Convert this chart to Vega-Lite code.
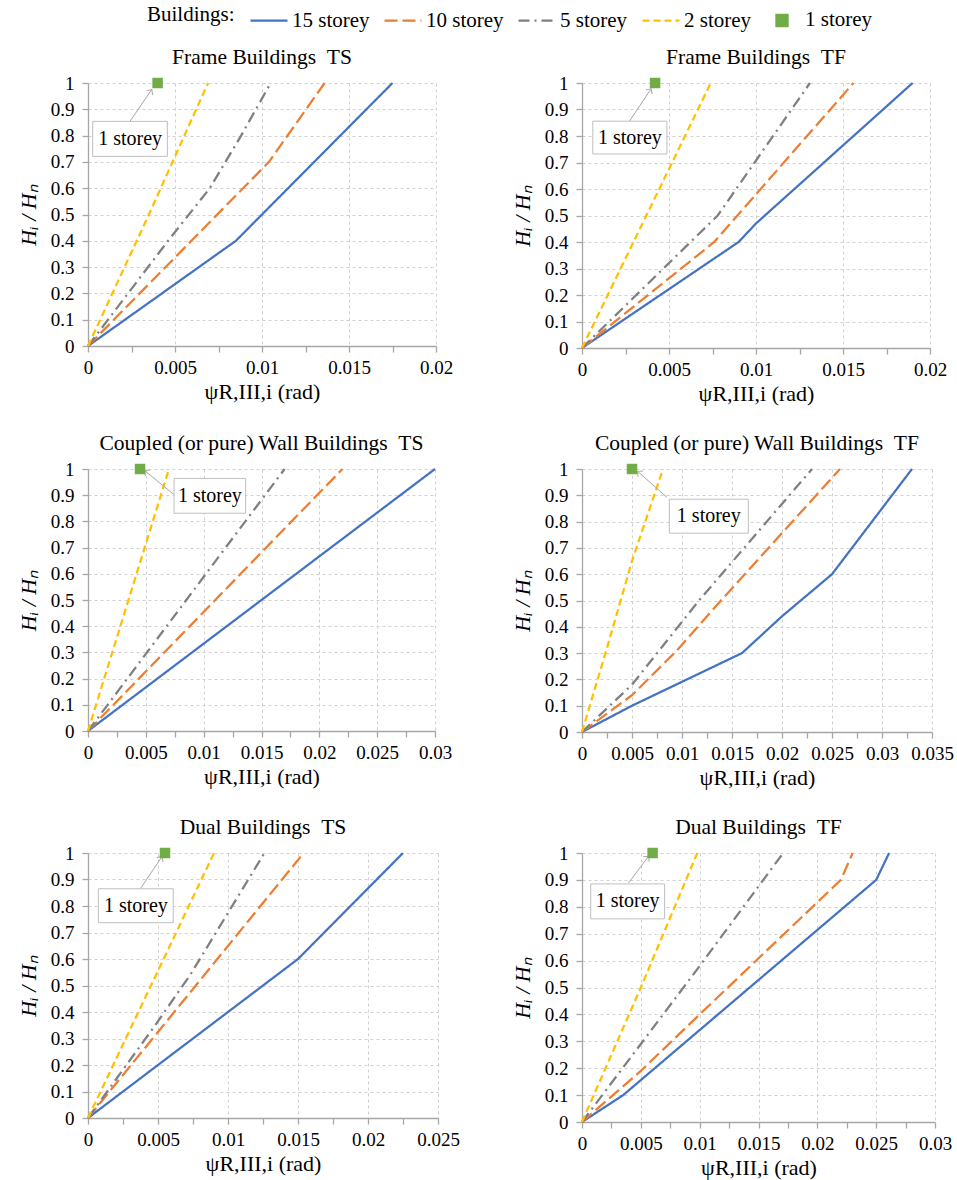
{
  "$schema": "https://vega.github.io/schema/vega-lite/v6.json",
  "background": "white",
  "padding": {"left": 17, "top": 0, "right": 5, "bottom": 5},
  "bounds": "flush",
  "columns": 2,
  "spacing": {"row": 121, "column": 144},
  "datasets": {
    "lines": [
      {"panel": "P1", "building": "15 storey", "x": 0, "y": 0},
      {"panel": "P1", "building": "15 storey", "x": 0.0085, "y": 0.4},
      {"panel": "P1", "building": "15 storey", "x": 0.01, "y": 0.5},
      {"panel": "P1", "building": "15 storey", "x": 0.0175, "y": 1},
      {"panel": "P1", "building": "10 storey", "x": 0, "y": 0},
      {"panel": "P1", "building": "10 storey", "x": 0.0104, "y": 0.7},
      {"panel": "P1", "building": "10 storey", "x": 0.0136, "y": 1},
      {"panel": "P1", "building": "5 storey", "x": 0, "y": 0},
      {"panel": "P1", "building": "5 storey", "x": 0.0023, "y": 0.2},
      {"panel": "P1", "building": "5 storey", "x": 0.0046, "y": 0.4},
      {"panel": "P1", "building": "5 storey", "x": 0.007, "y": 0.6},
      {"panel": "P1", "building": "5 storey", "x": 0.0088, "y": 0.8},
      {"panel": "P1", "building": "5 storey", "x": 0.0105, "y": 1},
      {"panel": "P1", "building": "2 storey", "x": 0, "y": 0},
      {"panel": "P1", "building": "2 storey", "x": 0.0035, "y": 0.5},
      {"panel": "P1", "building": "2 storey", "x": 0.0069, "y": 1},

      {"panel": "P2", "building": "15 storey", "x": 0, "y": 0},
      {"panel": "P2", "building": "15 storey", "x": 0.009, "y": 0.4},
      {"panel": "P2", "building": "15 storey", "x": 0.01, "y": 0.47},
      {"panel": "P2", "building": "15 storey", "x": 0.019, "y": 1},
      {"panel": "P2", "building": "10 storey", "x": 0, "y": 0},
      {"panel": "P2", "building": "10 storey", "x": 0.0076, "y": 0.4},
      {"panel": "P2", "building": "10 storey", "x": 0.0156, "y": 1},
      {"panel": "P2", "building": "5 storey", "x": 0, "y": 0},
      {"panel": "P2", "building": "5 storey", "x": 0.0078, "y": 0.5},
      {"panel": "P2", "building": "5 storey", "x": 0.0131, "y": 1},
      {"panel": "P2", "building": "2 storey", "x": 0, "y": 0},
      {"panel": "P2", "building": "2 storey", "x": 0.0037, "y": 0.5},
      {"panel": "P2", "building": "2 storey", "x": 0.0074, "y": 1},

      {"panel": "P3", "building": "15 storey", "x": 0, "y": 0},
      {"panel": "P3", "building": "15 storey", "x": 0.015, "y": 0.5},
      {"panel": "P3", "building": "15 storey", "x": 0.03, "y": 1},
      {"panel": "P3", "building": "10 storey", "x": 0, "y": 0},
      {"panel": "P3", "building": "10 storey", "x": 0.011, "y": 0.5},
      {"panel": "P3", "building": "10 storey", "x": 0.022, "y": 1},
      {"panel": "P3", "building": "5 storey", "x": 0, "y": 0},
      {"panel": "P3", "building": "5 storey", "x": 0.0085, "y": 0.5},
      {"panel": "P3", "building": "5 storey", "x": 0.017, "y": 1},
      {"panel": "P3", "building": "2 storey", "x": 0, "y": 0},
      {"panel": "P3", "building": "2 storey", "x": 0.0035, "y": 0.5},
      {"panel": "P3", "building": "2 storey", "x": 0.007, "y": 1},

      {"panel": "P4", "building": "15 storey", "x": 0, "y": 0},
      {"panel": "P4", "building": "15 storey", "x": 0.005, "y": 0.1},
      {"panel": "P4", "building": "15 storey", "x": 0.016, "y": 0.3},
      {"panel": "P4", "building": "15 storey", "x": 0.02, "y": 0.44},
      {"panel": "P4", "building": "15 storey", "x": 0.025, "y": 0.6},
      {"panel": "P4", "building": "15 storey", "x": 0.029, "y": 0.8},
      {"panel": "P4", "building": "15 storey", "x": 0.033, "y": 1},
      {"panel": "P4", "building": "10 storey", "x": 0, "y": 0},
      {"panel": "P4", "building": "10 storey", "x": 0.005, "y": 0.14},
      {"panel": "P4", "building": "10 storey", "x": 0.0095, "y": 0.31},
      {"panel": "P4", "building": "10 storey", "x": 0.0139, "y": 0.5},
      {"panel": "P4", "building": "10 storey", "x": 0.0258, "y": 1},
      {"panel": "P4", "building": "5 storey", "x": 0, "y": 0},
      {"panel": "P4", "building": "5 storey", "x": 0.005, "y": 0.18},
      {"panel": "P4", "building": "5 storey", "x": 0.0117, "y": 0.5},
      {"panel": "P4", "building": "5 storey", "x": 0.023, "y": 1},
      {"panel": "P4", "building": "2 storey", "x": 0, "y": 0},
      {"panel": "P4", "building": "2 storey", "x": 0.0025, "y": 0.32},
      {"panel": "P4", "building": "2 storey", "x": 0.005, "y": 0.65},
      {"panel": "P4", "building": "2 storey", "x": 0.0081, "y": 1},

      {"panel": "P5", "building": "15 storey", "x": 0, "y": 0},
      {"panel": "P5", "building": "15 storey", "x": 0.015, "y": 0.6},
      {"panel": "P5", "building": "15 storey", "x": 0.0225, "y": 1},
      {"panel": "P5", "building": "10 storey", "x": 0, "y": 0},
      {"panel": "P5", "building": "10 storey", "x": 0.0154, "y": 1},
      {"panel": "P5", "building": "5 storey", "x": 0, "y": 0},
      {"panel": "P5", "building": "5 storey", "x": 0.0048, "y": 0.35},
      {"panel": "P5", "building": "5 storey", "x": 0.0073, "y": 0.54},
      {"panel": "P5", "building": "5 storey", "x": 0.0126, "y": 1},
      {"panel": "P5", "building": "2 storey", "x": 0, "y": 0},
      {"panel": "P5", "building": "2 storey", "x": 0.0045, "y": 0.5},
      {"panel": "P5", "building": "2 storey", "x": 0.009, "y": 1},

      {"panel": "P6", "building": "15 storey", "x": 0, "y": 0},
      {"panel": "P6", "building": "15 storey", "x": 0.0035, "y": 0.1},
      {"panel": "P6", "building": "15 storey", "x": 0.025, "y": 0.9},
      {"panel": "P6", "building": "15 storey", "x": 0.0261, "y": 1},
      {"panel": "P6", "building": "10 storey", "x": 0, "y": 0},
      {"panel": "P6", "building": "10 storey", "x": 0.005, "y": 0.19},
      {"panel": "P6", "building": "10 storey", "x": 0.01, "y": 0.4},
      {"panel": "P6", "building": "10 storey", "x": 0.022, "y": 0.9},
      {"panel": "P6", "building": "10 storey", "x": 0.023, "y": 1},
      {"panel": "P6", "building": "5 storey", "x": 0, "y": 0},
      {"panel": "P6", "building": "5 storey", "x": 0.005, "y": 0.29},
      {"panel": "P6", "building": "5 storey", "x": 0.01, "y": 0.58},
      {"panel": "P6", "building": "5 storey", "x": 0.0171, "y": 1},
      {"panel": "P6", "building": "2 storey", "x": 0, "y": 0},
      {"panel": "P6", "building": "2 storey", "x": 0.005, "y": 0.5},
      {"panel": "P6", "building": "2 storey", "x": 0.0098, "y": 1}
    ],
    "one": [
      {"panel": "P1", "building": "1 storey", "x": 0.004, "y": 1},
      {"panel": "P2", "building": "1 storey", "x": 0.0042, "y": 1},
      {"panel": "P3", "building": "1 storey", "x": 0.0045, "y": 1},
      {"panel": "P4", "building": "1 storey", "x": 0.005, "y": 1},
      {"panel": "P5", "building": "1 storey", "x": 0.0055, "y": 1},
      {"panel": "P6", "building": "1 storey", "x": 0.006, "y": 1}
    ],
    "boxes": [
      {"panel": "P1", "x": 0.00027, "x2": 0.00456, "y": 0.854, "y2": 0.721},
      {"panel": "P2", "x": 0.00062, "x2": 0.00488, "y": 0.856, "y2": 0.732},
      {"panel": "P3", "x": 0.00744, "x2": 0.01363, "y": 0.964, "y2": 0.831},
      {"panel": "P4", "x": 0.00873, "x2": 0.01663, "y": 0.885, "y2": 0.756},
      {"panel": "P5", "x": 0.00074, "x2": 0.00609, "y": 0.865, "y2": 0.737},
      {"panel": "P6", "x": 0.00074, "x2": 0.00702, "y": 0.885, "y2": 0.755}
    ],
    "labels": [
      {"panel": "P1", "label": "1 storey", "x": 0.00242, "y": 0.787},
      {"panel": "P2", "label": "1 storey", "x": 0.00275, "y": 0.794},
      {"panel": "P3", "label": "1 storey", "x": 0.01054, "y": 0.897},
      {"panel": "P4", "label": "1 storey", "x": 0.01268, "y": 0.82},
      {"panel": "P5", "label": "1 storey", "x": 0.00342, "y": 0.801},
      {"panel": "P6", "label": "1 storey", "x": 0.00388, "y": 0.82}
    ],
    "arrows": [
      {"panel": "P1", "x": 0.00366, "y": 0.975, "x2": 0.00241, "y2": 0.854},
      {"panel": "P2", "x": 0.00397, "y": 0.978, "x2": 0.00273, "y2": 0.856},
      {"panel": "P3", "x": 0.0049, "y": 0.994, "x2": 0.00744, "y2": 0.902},
      {"panel": "P4", "x": 0.00556, "y": 0.991, "x2": 0.0085, "y2": 0.892},
      {"panel": "P5", "x": 0.00529, "y": 0.987, "x2": 0.00374, "y2": 0.865},
      {"panel": "P6", "x": 0.00566, "y": 0.988, "x2": 0.00396, "y2": 0.889}
    ]
  },
  "concat": [
    {
      "width": 348, "height": 263,
      "title": "Frame Buildings \u00a0TS",
      "encoding": {
        "x": {"field": "x", "type": "quantitative", "title": "ψR,III,i (rad)",
          "scale": {"domain": [0, 0.02], "nice": false},
          "axis": {"values": [0, 0.0025, 0.005, 0.0075, 0.01, 0.0125, 0.015, 0.0175, 0.02],
            "labelExpr": "round(datum.value*400) % 2 == 1 ? '' : datum.label",
            "gridOpacity": {"condition": {"test": "round(datum.value*400) % 2 == 1", "value": 0}, "value": 1}}},
        "y": {"field": "y", "type": "quantitative", "title": "Hᵢ / Hₙ",
          "scale": {"domain": [0, 1], "nice": false},
          "axis": {"values": [0, 0.1, 0.2, 0.3, 0.4, 0.5, 0.6, 0.7, 0.8, 0.9, 1]}}
      },
      "layer": [
        {"data": {"name": "lines"}, "transform": [{"filter": "datum.panel == 'P1'"}],
          "mark": {"type": "line", "strokeWidth": 2.25},
          "encoding": {
            "color": {"field": "building", "type": "nominal", "scale": {"domain": ["15 storey", "10 storey", "5 storey", "2 storey", "1 storey"], "range": ["#4472C4", "#ED7D31", "#7F7F7F", "#FFC000", "#70AD47"]}, "legend": {"title": "Buildings:", "orient": "none", "legendX": 59, "legendY": -83, "direction": "horizontal", "titleOrient": "left"}},
            "strokeDash": {"field": "building", "type": "nominal", "scale": {"domain": ["15 storey", "10 storey", "5 storey", "2 storey", "1 storey"], "range": [[1, 0], [13, 5], [11, 5, 2, 5], [7, 4], [1, 0]]}, "legend": {"title": "Buildings:", "orient": "none", "legendX": 59, "legendY": -83, "direction": "horizontal", "titleOrient": "left"}}
          }},
        {"data": {"name": "arrows"}, "transform": [{"filter": "datum.panel == 'P1'"}],
          "mark": {"type": "rule", "color": "#A6A6A6", "strokeWidth": 1},
          "encoding": {"x2": {"field": "x2"}, "y2": {"field": "y2"}}},
        {"data": {"name": "arrows"}, "transform": [{"filter": "datum.panel == 'P1'"}],
          "mark": {"type": "point", "shape": "M-1,1L0,0L1,1", "size": 60, "angle": 34, "color": "#A6A6A6", "filled": false, "strokeWidth": 1, "opacity": 1},
          "encoding": {}},
        {"data": {"name": "boxes"}, "transform": [{"filter": "datum.panel == 'P1'"}],
          "mark": {"type": "rect", "fill": "white", "stroke": "#BFBFBF", "strokeWidth": 1},
          "encoding": {"x2": {"field": "x2"}, "y2": {"field": "y2"}}},
        {"data": {"name": "labels"}, "transform": [{"filter": "datum.panel == 'P1'"}],
          "mark": {"type": "text", "font": "Liberation Serif, Times New Roman, serif", "fontSize": 20, "color": "black"},
          "encoding": {"text": {"field": "label"}}},
        {"data": {"name": "one"}, "transform": [{"filter": "datum.panel == 'P1'"}],
          "mark": {"type": "point", "filled": true, "size": 1225, "opacity": 1},
          "encoding": {
            "color": {"field": "building", "type": "nominal", "scale": {"domain": ["15 storey", "10 storey", "5 storey", "2 storey", "1 storey"], "range": ["#4472C4", "#ED7D31", "#7F7F7F", "#FFC000", "#70AD47"]}, "legend": {"title": "Buildings:", "orient": "none", "legendX": 59, "legendY": -83, "direction": "horizontal", "titleOrient": "left"}},
            "strokeDash": {"field": "building", "type": "nominal", "scale": {"domain": ["15 storey", "10 storey", "5 storey", "2 storey", "1 storey"], "range": [[1, 0], [13, 5], [11, 5, 2, 5], [7, 4], [1, 0]]}, "legend": {"title": "Buildings:", "orient": "none", "legendX": 59, "legendY": -83, "direction": "horizontal", "titleOrient": "left"}},
            "shape": {"field": "building", "type": "nominal", "scale": {"domain": ["15 storey", "10 storey", "5 storey", "2 storey", "1 storey"], "range": ["stroke", "stroke", "stroke", "stroke", "M-0.3,-0.3H0.3V0.3H-0.3Z"]}, "legend": {"title": "Buildings:", "orient": "none", "legendX": 59, "legendY": -83, "direction": "horizontal", "titleOrient": "left"}}
          }}
      ]
    },
    {
      "width": 348, "height": 265,
      "title": "Frame Buildings \u00a0TF",
      "encoding": {
        "x": {"field": "x", "type": "quantitative", "title": "ψR,III,i (rad)",
          "scale": {"domain": [0, 0.02], "nice": false},
          "axis": {"values": [0, 0.0025, 0.005, 0.0075, 0.01, 0.0125, 0.015, 0.0175, 0.02],
            "labelExpr": "round(datum.value*400) % 2 == 1 ? '' : datum.label",
            "gridOpacity": {"condition": {"test": "round(datum.value*400) % 2 == 1", "value": 0}, "value": 1}}},
        "y": {"field": "y", "type": "quantitative", "title": "Hᵢ / Hₙ",
          "scale": {"domain": [0, 1], "nice": false},
          "axis": {"values": [0, 0.1, 0.2, 0.3, 0.4, 0.5, 0.6, 0.7, 0.8, 0.9, 1]}}
      },
      "layer": [
        {"data": {"name": "lines"}, "transform": [{"filter": "datum.panel == 'P2'"}],
          "mark": {"type": "line", "strokeWidth": 2.25},
          "encoding": {
            "color": {"field": "building", "type": "nominal", "scale": {"domain": ["15 storey", "10 storey", "5 storey", "2 storey", "1 storey"], "range": ["#4472C4", "#ED7D31", "#7F7F7F", "#FFC000", "#70AD47"]}, "legend": {"title": "Buildings:", "orient": "none", "legendX": 59, "legendY": -83, "direction": "horizontal", "titleOrient": "left"}},
            "strokeDash": {"field": "building", "type": "nominal", "scale": {"domain": ["15 storey", "10 storey", "5 storey", "2 storey", "1 storey"], "range": [[1, 0], [13, 5], [11, 5, 2, 5], [7, 4], [1, 0]]}, "legend": {"title": "Buildings:", "orient": "none", "legendX": 59, "legendY": -83, "direction": "horizontal", "titleOrient": "left"}}
          }},
        {"data": {"name": "arrows"}, "transform": [{"filter": "datum.panel == 'P2'"}],
          "mark": {"type": "rule", "color": "#A6A6A6", "strokeWidth": 1},
          "encoding": {"x2": {"field": "x2"}, "y2": {"field": "y2"}}},
        {"data": {"name": "arrows"}, "transform": [{"filter": "datum.panel == 'P2'"}],
          "mark": {"type": "point", "shape": "M-1,1L0,0L1,1", "size": 60, "angle": 34, "color": "#A6A6A6", "filled": false, "strokeWidth": 1, "opacity": 1},
          "encoding": {}},
        {"data": {"name": "boxes"}, "transform": [{"filter": "datum.panel == 'P2'"}],
          "mark": {"type": "rect", "fill": "white", "stroke": "#BFBFBF", "strokeWidth": 1},
          "encoding": {"x2": {"field": "x2"}, "y2": {"field": "y2"}}},
        {"data": {"name": "labels"}, "transform": [{"filter": "datum.panel == 'P2'"}],
          "mark": {"type": "text", "font": "Liberation Serif, Times New Roman, serif", "fontSize": 20, "color": "black"},
          "encoding": {"text": {"field": "label"}}},
        {"data": {"name": "one"}, "transform": [{"filter": "datum.panel == 'P2'"}],
          "mark": {"type": "point", "filled": true, "size": 1225, "opacity": 1},
          "encoding": {
            "color": {"field": "building", "type": "nominal", "scale": {"domain": ["15 storey", "10 storey", "5 storey", "2 storey", "1 storey"], "range": ["#4472C4", "#ED7D31", "#7F7F7F", "#FFC000", "#70AD47"]}, "legend": {"title": "Buildings:", "orient": "none", "legendX": 59, "legendY": -83, "direction": "horizontal", "titleOrient": "left"}},
            "strokeDash": {"field": "building", "type": "nominal", "scale": {"domain": ["15 storey", "10 storey", "5 storey", "2 storey", "1 storey"], "range": [[1, 0], [13, 5], [11, 5, 2, 5], [7, 4], [1, 0]]}, "legend": {"title": "Buildings:", "orient": "none", "legendX": 59, "legendY": -83, "direction": "horizontal", "titleOrient": "left"}},
            "shape": {"field": "building", "type": "nominal", "scale": {"domain": ["15 storey", "10 storey", "5 storey", "2 storey", "1 storey"], "range": ["stroke", "stroke", "stroke", "stroke", "M-0.3,-0.3H0.3V0.3H-0.3Z"]}, "legend": {"title": "Buildings:", "orient": "none", "legendX": 59, "legendY": -83, "direction": "horizontal", "titleOrient": "left"}}
          }}
      ]
    },
    {
      "width": 347, "height": 262,
      "title": "Coupled (or pure) Wall Buildings \u00a0TS",
      "encoding": {
        "x": {"field": "x", "type": "quantitative", "title": "ψR,III,i (rad)",
          "scale": {"domain": [0, 0.03], "nice": false},
          "axis": {"values": [0, 0.0025, 0.005, 0.0075, 0.01, 0.0125, 0.015, 0.0175, 0.02, 0.0225, 0.025, 0.0275, 0.03],
            "labelExpr": "round(datum.value*400) % 2 == 1 ? '' : datum.label",
            "gridOpacity": {"condition": {"test": "round(datum.value*400) % 2 == 1", "value": 0}, "value": 1}}},
        "y": {"field": "y", "type": "quantitative", "title": "Hᵢ / Hₙ",
          "scale": {"domain": [0, 1], "nice": false},
          "axis": {"values": [0, 0.1, 0.2, 0.3, 0.4, 0.5, 0.6, 0.7, 0.8, 0.9, 1]}}
      },
      "layer": [
        {"data": {"name": "lines"}, "transform": [{"filter": "datum.panel == 'P3'"}],
          "mark": {"type": "line", "strokeWidth": 2.25},
          "encoding": {
            "color": {"field": "building", "type": "nominal", "scale": {"domain": ["15 storey", "10 storey", "5 storey", "2 storey", "1 storey"], "range": ["#4472C4", "#ED7D31", "#7F7F7F", "#FFC000", "#70AD47"]}, "legend": {"title": "Buildings:", "orient": "none", "legendX": 59, "legendY": -83, "direction": "horizontal", "titleOrient": "left"}},
            "strokeDash": {"field": "building", "type": "nominal", "scale": {"domain": ["15 storey", "10 storey", "5 storey", "2 storey", "1 storey"], "range": [[1, 0], [13, 5], [11, 5, 2, 5], [7, 4], [1, 0]]}, "legend": {"title": "Buildings:", "orient": "none", "legendX": 59, "legendY": -83, "direction": "horizontal", "titleOrient": "left"}}
          }},
        {"data": {"name": "arrows"}, "transform": [{"filter": "datum.panel == 'P3'"}],
          "mark": {"type": "rule", "color": "#A6A6A6", "strokeWidth": 1},
          "encoding": {"x2": {"field": "x2"}, "y2": {"field": "y2"}}},
        {"data": {"name": "arrows"}, "transform": [{"filter": "datum.panel == 'P3'"}],
          "mark": {"type": "point", "shape": "M-1,1L0,0L1,1", "size": 60, "angle": -51, "color": "#A6A6A6", "filled": false, "strokeWidth": 1, "opacity": 1},
          "encoding": {}},
        {"data": {"name": "boxes"}, "transform": [{"filter": "datum.panel == 'P3'"}],
          "mark": {"type": "rect", "fill": "white", "stroke": "#BFBFBF", "strokeWidth": 1},
          "encoding": {"x2": {"field": "x2"}, "y2": {"field": "y2"}}},
        {"data": {"name": "labels"}, "transform": [{"filter": "datum.panel == 'P3'"}],
          "mark": {"type": "text", "font": "Liberation Serif, Times New Roman, serif", "fontSize": 20, "color": "black"},
          "encoding": {"text": {"field": "label"}}},
        {"data": {"name": "one"}, "transform": [{"filter": "datum.panel == 'P3'"}],
          "mark": {"type": "point", "filled": true, "size": 1225, "opacity": 1},
          "encoding": {
            "color": {"field": "building", "type": "nominal", "scale": {"domain": ["15 storey", "10 storey", "5 storey", "2 storey", "1 storey"], "range": ["#4472C4", "#ED7D31", "#7F7F7F", "#FFC000", "#70AD47"]}, "legend": {"title": "Buildings:", "orient": "none", "legendX": 59, "legendY": -83, "direction": "horizontal", "titleOrient": "left"}},
            "strokeDash": {"field": "building", "type": "nominal", "scale": {"domain": ["15 storey", "10 storey", "5 storey", "2 storey", "1 storey"], "range": [[1, 0], [13, 5], [11, 5, 2, 5], [7, 4], [1, 0]]}, "legend": {"title": "Buildings:", "orient": "none", "legendX": 59, "legendY": -83, "direction": "horizontal", "titleOrient": "left"}},
            "shape": {"field": "building", "type": "nominal", "scale": {"domain": ["15 storey", "10 storey", "5 storey", "2 storey", "1 storey"], "range": ["stroke", "stroke", "stroke", "stroke", "M-0.3,-0.3H0.3V0.3H-0.3Z"]}, "legend": {"title": "Buildings:", "orient": "none", "legendX": 59, "legendY": -83, "direction": "horizontal", "titleOrient": "left"}}
          }}
      ]
    },
    {
      "width": 350, "height": 263,
      "title": "Coupled (or pure) Wall Buildings \u00a0TF",
      "encoding": {
        "x": {"field": "x", "type": "quantitative", "title": "ψR,III,i (rad)",
          "scale": {"domain": [0, 0.035], "nice": false},
          "axis": {"values": [0, 0.0025, 0.005, 0.0075, 0.01, 0.0125, 0.015, 0.0175, 0.02, 0.0225, 0.025, 0.0275, 0.03, 0.0325, 0.035],
            "labelExpr": "round(datum.value*400) % 2 == 1 ? '' : datum.label",
            "gridOpacity": {"condition": {"test": "round(datum.value*400) % 2 == 1", "value": 0}, "value": 1}}},
        "y": {"field": "y", "type": "quantitative", "title": "Hᵢ / Hₙ",
          "scale": {"domain": [0, 1], "nice": false},
          "axis": {"values": [0, 0.1, 0.2, 0.3, 0.4, 0.5, 0.6, 0.7, 0.8, 0.9, 1]}}
      },
      "layer": [
        {"data": {"name": "lines"}, "transform": [{"filter": "datum.panel == 'P4'"}],
          "mark": {"type": "line", "strokeWidth": 2.25},
          "encoding": {
            "color": {"field": "building", "type": "nominal", "scale": {"domain": ["15 storey", "10 storey", "5 storey", "2 storey", "1 storey"], "range": ["#4472C4", "#ED7D31", "#7F7F7F", "#FFC000", "#70AD47"]}, "legend": {"title": "Buildings:", "orient": "none", "legendX": 59, "legendY": -83, "direction": "horizontal", "titleOrient": "left"}},
            "strokeDash": {"field": "building", "type": "nominal", "scale": {"domain": ["15 storey", "10 storey", "5 storey", "2 storey", "1 storey"], "range": [[1, 0], [13, 5], [11, 5, 2, 5], [7, 4], [1, 0]]}, "legend": {"title": "Buildings:", "orient": "none", "legendX": 59, "legendY": -83, "direction": "horizontal", "titleOrient": "left"}}
          }},
        {"data": {"name": "arrows"}, "transform": [{"filter": "datum.panel == 'P4'"}],
          "mark": {"type": "rule", "color": "#A6A6A6", "strokeWidth": 1},
          "encoding": {"x2": {"field": "x2"}, "y2": {"field": "y2"}}},
        {"data": {"name": "arrows"}, "transform": [{"filter": "datum.panel == 'P4'"}],
          "mark": {"type": "point", "shape": "M-1,1L0,0L1,1", "size": 60, "angle": -49, "color": "#A6A6A6", "filled": false, "strokeWidth": 1, "opacity": 1},
          "encoding": {}},
        {"data": {"name": "boxes"}, "transform": [{"filter": "datum.panel == 'P4'"}],
          "mark": {"type": "rect", "fill": "white", "stroke": "#BFBFBF", "strokeWidth": 1},
          "encoding": {"x2": {"field": "x2"}, "y2": {"field": "y2"}}},
        {"data": {"name": "labels"}, "transform": [{"filter": "datum.panel == 'P4'"}],
          "mark": {"type": "text", "font": "Liberation Serif, Times New Roman, serif", "fontSize": 20, "color": "black"},
          "encoding": {"text": {"field": "label"}}},
        {"data": {"name": "one"}, "transform": [{"filter": "datum.panel == 'P4'"}],
          "mark": {"type": "point", "filled": true, "size": 1225, "opacity": 1},
          "encoding": {
            "color": {"field": "building", "type": "nominal", "scale": {"domain": ["15 storey", "10 storey", "5 storey", "2 storey", "1 storey"], "range": ["#4472C4", "#ED7D31", "#7F7F7F", "#FFC000", "#70AD47"]}, "legend": {"title": "Buildings:", "orient": "none", "legendX": 59, "legendY": -83, "direction": "horizontal", "titleOrient": "left"}},
            "strokeDash": {"field": "building", "type": "nominal", "scale": {"domain": ["15 storey", "10 storey", "5 storey", "2 storey", "1 storey"], "range": [[1, 0], [13, 5], [11, 5, 2, 5], [7, 4], [1, 0]]}, "legend": {"title": "Buildings:", "orient": "none", "legendX": 59, "legendY": -83, "direction": "horizontal", "titleOrient": "left"}},
            "shape": {"field": "building", "type": "nominal", "scale": {"domain": ["15 storey", "10 storey", "5 storey", "2 storey", "1 storey"], "range": ["stroke", "stroke", "stroke", "stroke", "M-0.3,-0.3H0.3V0.3H-0.3Z"]}, "legend": {"title": "Buildings:", "orient": "none", "legendX": 59, "legendY": -83, "direction": "horizontal", "titleOrient": "left"}}
          }}
      ]
    },
    {
      "width": 350, "height": 265,
      "title": "Dual Buildings \u00a0TS",
      "encoding": {
        "x": {"field": "x", "type": "quantitative", "title": "ψR,III,i (rad)",
          "scale": {"domain": [0, 0.025], "nice": false},
          "axis": {"values": [0, 0.0025, 0.005, 0.0075, 0.01, 0.0125, 0.015, 0.0175, 0.02, 0.0225, 0.025],
            "labelExpr": "round(datum.value*400) % 2 == 1 ? '' : datum.label",
            "gridOpacity": {"condition": {"test": "round(datum.value*400) % 2 == 1", "value": 0}, "value": 1}}},
        "y": {"field": "y", "type": "quantitative", "title": "Hᵢ / Hₙ",
          "scale": {"domain": [0, 1], "nice": false},
          "axis": {"values": [0, 0.1, 0.2, 0.3, 0.4, 0.5, 0.6, 0.7, 0.8, 0.9, 1]}}
      },
      "layer": [
        {"data": {"name": "lines"}, "transform": [{"filter": "datum.panel == 'P5'"}],
          "mark": {"type": "line", "strokeWidth": 2.25},
          "encoding": {
            "color": {"field": "building", "type": "nominal", "scale": {"domain": ["15 storey", "10 storey", "5 storey", "2 storey", "1 storey"], "range": ["#4472C4", "#ED7D31", "#7F7F7F", "#FFC000", "#70AD47"]}, "legend": {"title": "Buildings:", "orient": "none", "legendX": 59, "legendY": -83, "direction": "horizontal", "titleOrient": "left"}},
            "strokeDash": {"field": "building", "type": "nominal", "scale": {"domain": ["15 storey", "10 storey", "5 storey", "2 storey", "1 storey"], "range": [[1, 0], [13, 5], [11, 5, 2, 5], [7, 4], [1, 0]]}, "legend": {"title": "Buildings:", "orient": "none", "legendX": 59, "legendY": -83, "direction": "horizontal", "titleOrient": "left"}}
          }},
        {"data": {"name": "arrows"}, "transform": [{"filter": "datum.panel == 'P5'"}],
          "mark": {"type": "rule", "color": "#A6A6A6", "strokeWidth": 1},
          "encoding": {"x2": {"field": "x2"}, "y2": {"field": "y2"}}},
        {"data": {"name": "arrows"}, "transform": [{"filter": "datum.panel == 'P5'"}],
          "mark": {"type": "point", "shape": "M-1,1L0,0L1,1", "size": 60, "angle": 34, "color": "#A6A6A6", "filled": false, "strokeWidth": 1, "opacity": 1},
          "encoding": {}},
        {"data": {"name": "boxes"}, "transform": [{"filter": "datum.panel == 'P5'"}],
          "mark": {"type": "rect", "fill": "white", "stroke": "#BFBFBF", "strokeWidth": 1},
          "encoding": {"x2": {"field": "x2"}, "y2": {"field": "y2"}}},
        {"data": {"name": "labels"}, "transform": [{"filter": "datum.panel == 'P5'"}],
          "mark": {"type": "text", "font": "Liberation Serif, Times New Roman, serif", "fontSize": 20, "color": "black"},
          "encoding": {"text": {"field": "label"}}},
        {"data": {"name": "one"}, "transform": [{"filter": "datum.panel == 'P5'"}],
          "mark": {"type": "point", "filled": true, "size": 1225, "opacity": 1},
          "encoding": {
            "color": {"field": "building", "type": "nominal", "scale": {"domain": ["15 storey", "10 storey", "5 storey", "2 storey", "1 storey"], "range": ["#4472C4", "#ED7D31", "#7F7F7F", "#FFC000", "#70AD47"]}, "legend": {"title": "Buildings:", "orient": "none", "legendX": 59, "legendY": -83, "direction": "horizontal", "titleOrient": "left"}},
            "strokeDash": {"field": "building", "type": "nominal", "scale": {"domain": ["15 storey", "10 storey", "5 storey", "2 storey", "1 storey"], "range": [[1, 0], [13, 5], [11, 5, 2, 5], [7, 4], [1, 0]]}, "legend": {"title": "Buildings:", "orient": "none", "legendX": 59, "legendY": -83, "direction": "horizontal", "titleOrient": "left"}},
            "shape": {"field": "building", "type": "nominal", "scale": {"domain": ["15 storey", "10 storey", "5 storey", "2 storey", "1 storey"], "range": ["stroke", "stroke", "stroke", "stroke", "M-0.3,-0.3H0.3V0.3H-0.3Z"]}, "legend": {"title": "Buildings:", "orient": "none", "legendX": 59, "legendY": -83, "direction": "horizontal", "titleOrient": "left"}}
          }}
      ]
    },
    {
      "width": 353, "height": 269,
      "title": "Dual Buildings \u00a0TF",
      "encoding": {
        "x": {"field": "x", "type": "quantitative", "title": "ψR,III,i (rad)",
          "scale": {"domain": [0, 0.03], "nice": false},
          "axis": {"values": [0, 0.0025, 0.005, 0.0075, 0.01, 0.0125, 0.015, 0.0175, 0.02, 0.0225, 0.025, 0.0275, 0.03],
            "labelExpr": "round(datum.value*400) % 2 == 1 ? '' : datum.label",
            "gridOpacity": {"condition": {"test": "round(datum.value*400) % 2 == 1", "value": 0}, "value": 1}}},
        "y": {"field": "y", "type": "quantitative", "title": "Hᵢ / Hₙ",
          "scale": {"domain": [0, 1], "nice": false},
          "axis": {"values": [0, 0.1, 0.2, 0.3, 0.4, 0.5, 0.6, 0.7, 0.8, 0.9, 1]}}
      },
      "layer": [
        {"data": {"name": "lines"}, "transform": [{"filter": "datum.panel == 'P6'"}],
          "mark": {"type": "line", "strokeWidth": 2.25},
          "encoding": {
            "color": {"field": "building", "type": "nominal", "scale": {"domain": ["15 storey", "10 storey", "5 storey", "2 storey", "1 storey"], "range": ["#4472C4", "#ED7D31", "#7F7F7F", "#FFC000", "#70AD47"]}, "legend": {"title": "Buildings:", "orient": "none", "legendX": 59, "legendY": -83, "direction": "horizontal", "titleOrient": "left"}},
            "strokeDash": {"field": "building", "type": "nominal", "scale": {"domain": ["15 storey", "10 storey", "5 storey", "2 storey", "1 storey"], "range": [[1, 0], [13, 5], [11, 5, 2, 5], [7, 4], [1, 0]]}, "legend": {"title": "Buildings:", "orient": "none", "legendX": 59, "legendY": -83, "direction": "horizontal", "titleOrient": "left"}}
          }},
        {"data": {"name": "arrows"}, "transform": [{"filter": "datum.panel == 'P6'"}],
          "mark": {"type": "rule", "color": "#A6A6A6", "strokeWidth": 1},
          "encoding": {"x2": {"field": "x2"}, "y2": {"field": "y2"}}},
        {"data": {"name": "arrows"}, "transform": [{"filter": "datum.panel == 'P6'"}],
          "mark": {"type": "point", "shape": "M-1,1L0,0L1,1", "size": 60, "angle": 39, "color": "#A6A6A6", "filled": false, "strokeWidth": 1, "opacity": 1},
          "encoding": {}},
        {"data": {"name": "boxes"}, "transform": [{"filter": "datum.panel == 'P6'"}],
          "mark": {"type": "rect", "fill": "white", "stroke": "#BFBFBF", "strokeWidth": 1},
          "encoding": {"x2": {"field": "x2"}, "y2": {"field": "y2"}}},
        {"data": {"name": "labels"}, "transform": [{"filter": "datum.panel == 'P6'"}],
          "mark": {"type": "text", "font": "Liberation Serif, Times New Roman, serif", "fontSize": 20, "color": "black"},
          "encoding": {"text": {"field": "label"}}},
        {"data": {"name": "one"}, "transform": [{"filter": "datum.panel == 'P6'"}],
          "mark": {"type": "point", "filled": true, "size": 1225, "opacity": 1},
          "encoding": {
            "color": {"field": "building", "type": "nominal", "scale": {"domain": ["15 storey", "10 storey", "5 storey", "2 storey", "1 storey"], "range": ["#4472C4", "#ED7D31", "#7F7F7F", "#FFC000", "#70AD47"]}, "legend": {"title": "Buildings:", "orient": "none", "legendX": 59, "legendY": -83, "direction": "horizontal", "titleOrient": "left"}},
            "strokeDash": {"field": "building", "type": "nominal", "scale": {"domain": ["15 storey", "10 storey", "5 storey", "2 storey", "1 storey"], "range": [[1, 0], [13, 5], [11, 5, 2, 5], [7, 4], [1, 0]]}, "legend": {"title": "Buildings:", "orient": "none", "legendX": 59, "legendY": -83, "direction": "horizontal", "titleOrient": "left"}},
            "shape": {"field": "building", "type": "nominal", "scale": {"domain": ["15 storey", "10 storey", "5 storey", "2 storey", "1 storey"], "range": ["stroke", "stroke", "stroke", "stroke", "M-0.3,-0.3H0.3V0.3H-0.3Z"]}, "legend": {"title": "Buildings:", "orient": "none", "legendX": 59, "legendY": -83, "direction": "horizontal", "titleOrient": "left"}}
          }}
      ]
    }
  ],
  "config": {
    "font": "Liberation Serif, Times New Roman, serif",
    "view": {"stroke": null},
    "axis": {
      "grid": true, "gridColor": "#D0D0D0", "gridDash": [3, 3], "gridWidth": 1,
      "domainColor": "#A6A6A6", "domainWidth": 1.3, "tickColor": "#A6A6A6", "tickWidth": 1.3, "tickSize": 6,
      "labelFont": "Liberation Serif, Times New Roman, serif", "labelFontSize": 19, "labelColor": "black",
      "titleFont": "Liberation Serif, Times New Roman, serif", "titleFontSize": 22, "titleFontWeight": "normal", "titleColor": "black",
      "format": "~g"
    },
    "axisX": {"labelPadding": 6, "titlePadding": 4, "labelFlush": false},
    "axisY": {"labelPadding": 8, "titlePadding": 10, "titleFontStyle": "italic"},
    "title": {"font": "Liberation Serif, Times New Roman, serif", "fontSize": 21.5, "fontWeight": "normal", "color": "black", "anchor": "middle", "frame": "group", "offset": 6},
    "legend": {
      "labelFont": "Liberation Serif, Times New Roman, serif", "labelFontSize": 21, "labelColor": "black",
      "titleFont": "Liberation Serif, Times New Roman, serif", "titleFontSize": 21, "titleFontWeight": "normal", "titleColor": "black",
      "titlePadding": 14, "titleBaseline": "middle", "titleAnchor": "middle",
      "symbolSize": 1369, "symbolStrokeWidth": 2.25, "labelOffset": 3, "columnPadding": 10
    }
  }
}
